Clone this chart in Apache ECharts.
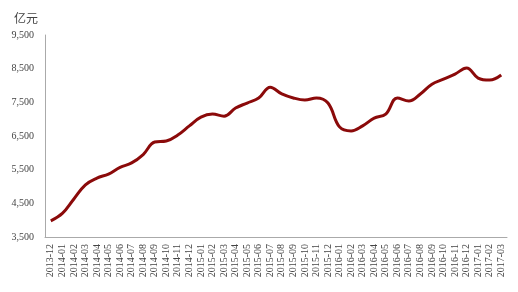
<!DOCTYPE html>
<html><head><meta charset="utf-8">
<script src="https://cdn.jsdelivr.net/npm/echarts@6/dist/echarts.min.js"></script>
<style>html,body{margin:0;padding:0;background:#fff}#c{width:518px;height:292px}</style>
</head><body><div id="c"></div>
<script>
const categories = ["2013-12","2014-01","2014-02","2014-03","2014-04","2014-05","2014-06","2014-07","2014-08","2014-09","2014-10","2014-11","2014-12","2015-01","2015-02","2015-03","2015-04","2015-05","2015-06","2015-07","2015-08","2015-09","2015-10","2015-11","2015-12","2016-01","2016-02","2016-03","2016-04","2016-05","2016-06","2016-07","2016-08","2016-09","2016-10","2016-11","2016-12","2017-01","2017-02","2017-03"];
const values = [3980,4200,4630,5050,5250,5370,5570,5700,5950,6320,6350,6530,6800,7060,7150,7090,7330,7480,7630,7950,7750,7630,7570,7630,7480,6770,6650,6800,7030,7150,7630,7540,7750,8040,8190,8340,8520,8220,8160,8310];
const yTicks = [3500,4500,5500,6500,7500,8500,9500];
const unit = "亿元";

const chart = echarts.init(document.getElementById('c'), null, {renderer:'canvas'});
chart.setOption({
  animation:false,
  backgroundColor:'#ffffff',
  title:{text:unit,left:9,top:7,textStyle:{fontFamily:'Noto Sans CJK SC',fontSize:12,fontWeight:'normal',color:'#444'}},
  grid:{left:45,right:11,top:35,bottom:55},
  xAxis:{
    type:'category',data:categories,boundaryGap:true,
    axisLine:{lineStyle:{color:'#aaaaaa',width:1}},
    axisTick:{show:false},
    axisLabel:{rotate:90,interval:0,fontFamily:'Liberation Serif',fontSize:10,color:'#444',margin:7}
  },
  yAxis:{
    type:'value',min:yTicks[0],max:yTicks[yTicks.length-1],interval:1000,
    axisLine:{show:true,lineStyle:{color:'#aaaaaa',width:1}},
    axisTick:{show:false},
    splitLine:{show:false},
    axisLabel:{fontFamily:'Liberation Serif',fontSize:10,color:'#444',margin:11,
      formatter:v=>v.toLocaleString('en-US')}
  },
  series:[{type:'line',data:values,smooth:0.4,showSymbol:false,
    lineStyle:{color:'#8b0a0a',width:3}}]
});
</script></body></html>
